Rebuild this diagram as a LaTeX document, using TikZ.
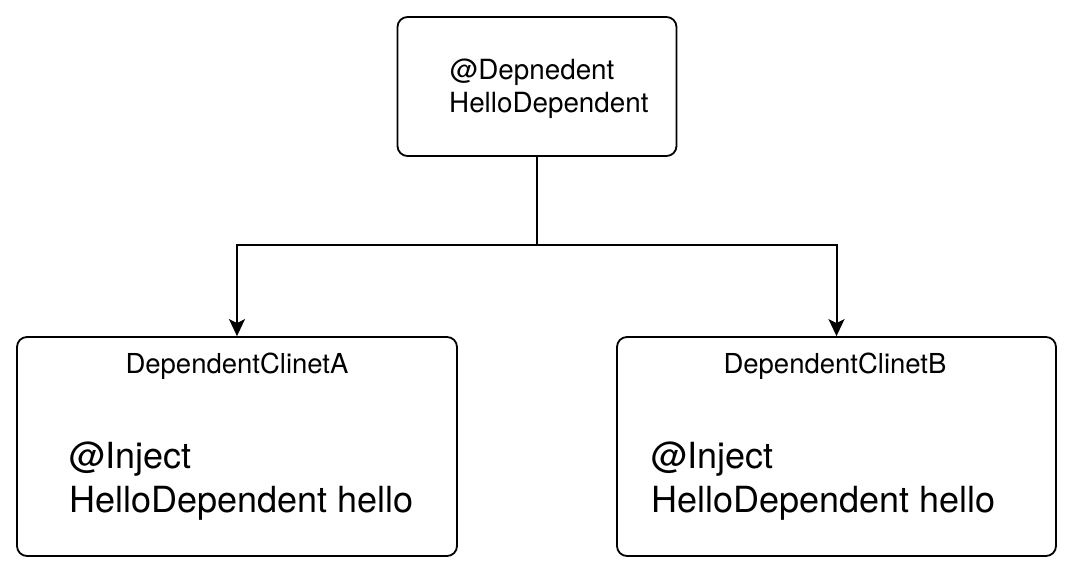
\documentclass[tikz,border=0pt]{standalone}
\usepackage{fontspec}
\setmainfont{TeX Gyre Heros}
\usetikzlibrary{arrows.meta}
\begin{document}
\begin{tikzpicture}[x=1pt,y=-1pt,
  box/.style={draw, line width=1.8pt, rounded corners=10pt, inner sep=0pt},
  lbl/.style={anchor=base west, inner sep=0pt, font=\fontsize{27.8}{32}\selectfont},
  ttl/.style={anchor=base, inner sep=0pt, font=\fontsize{27.5}{32}\selectfont},
  big/.style={anchor=base west, inner sep=0pt, font=\fontsize{36}{42}\selectfont},
  conn/.style={line width=2pt},
  tip/.style={-{Stealth[length=17pt,width=16pt,inset=4pt]}}
  ]
\useasboundingbox (0,0) rectangle (1074,574);
\node[box, minimum width=279pt, minimum height=139pt] (top) at (537,86.5) {};
\node[box, minimum width=440pt, minimum height=219pt] (A) at (237,446.5) {};
\node[box, minimum width=439pt, minimum height=219pt] (B) at (836.5,446.5) {};

\node[lbl] (t1) at (450,79) {@Depnedent};
\node[lbl] (t2) at (449,112) {HelloDependent};

\node[ttl] (ta) at (237,373) {DependentClinetA};
\node[ttl] (tb) at (835,373) {DependentClinetB};

\node[big] (a1) at (69,468) {@Inject};
\node[big] (a2) at (69,512) {HelloDependent hello};
\node[big] (b1) at (651,468) {@Inject};
\node[big] (b2) at (651,512) {HelloDependent hello};

\coordinate (j) at (537,245);
\draw[conn] (top.south) -- (j);
\draw[conn,tip] (j) -| (A.north);
\draw[conn,tip] (j) -| (B.north);
\end{tikzpicture}
\end{document}
